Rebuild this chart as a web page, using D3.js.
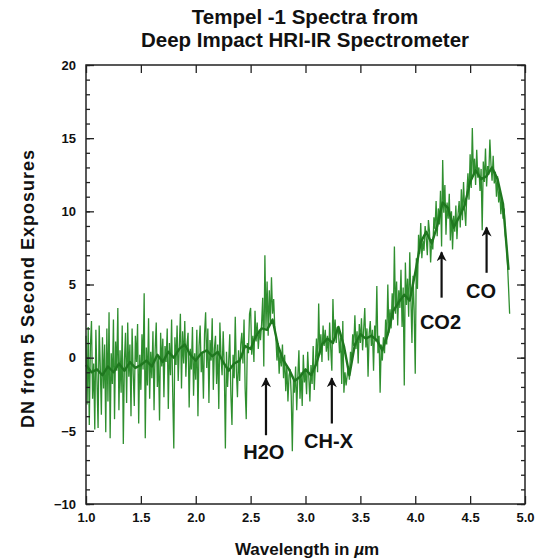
<!DOCTYPE html>
<html>
<head>
<meta charset="utf-8">
<script src="https://cdn.jsdelivr.net/npm/d3@7"></script>
<style>
    body { margin: 0; background: #fff; }
    text { font-family: "Liberation Sans", Arial, Helvetica, sans-serif; font-weight: bold; fill: #111; }
    .axis path { display: none; }
    .axis line { stroke: #222; stroke-width: 1.3; }
    .axis text { font-size: 13px; }
</style>
</head>
<body>
<svg id="chart" width="548" height="559"></svg>
<script>
// raw spectrum, one sample every 0.01 um starting at 1.00 um
let rawStart = 1.0, rawStep = 0.01;
let rawDN = [
    1.5, -3.2, 2.1, -4.6, 0.8, 2.5, -2.8, -0.4, -4.9, 1.9,
    -1.5, -4.8, 2.2, -0.6, -3.9, 1.4, -2.1, 0.9, -5.1, 2.0,
    -3.0, 3.1, -5.5, 0.3, -1.8, 2.6, -4.2, 1.1, -0.9, 3.4,
    -3.6, 0.5, -2.4, 2.2, -5.9, -0.2, 1.7, -3.1, 2.4, -1.3,
    0.9, -4.0, 2.0, -1.1, -3.3, 1.5, -0.3, 2.3, -4.5, 0.2,
    -2.2, 1.6, -0.8, 4.4, -5.5, 0.7, -1.9, 2.7, -2.8, 0.4,
    -1.4, 1.8, -3.6, 0.5, 2.4, -2.0, 0.1, -4.3, 1.7, -0.6,
    1.3, -2.7, 0.8, -0.3, 2.0, -3.5, 1.0, -1.2, 2.6, -2.4,
    -6.2, 1.4, -0.5, 2.2, -1.6, 0.7, 3.0, -2.1, 1.8, -0.4,
    2.5, -1.3, 0.9, 1.7, -3.4, 0.6, -0.8, 2.1, -2.6, 0.3,
    -1.5, 1.9, -4.0, 0.8, 2.2, -1.0, 0.4, -2.8, 1.6, 3.1,
    -0.7, 2.0, -3.1, 1.2, -0.2, 2.7, -2.2, 0.6, 1.5, -1.8,
    0.9, -3.5, 2.4, 0.1, -1.2, 1.8, -0.6, -6.2, 0.4, -2.0,
    -0.3, 1.6, -2.5, -4.6, 0.2, -1.4, 2.8, -0.9, -2.7, 0.5,
    -1.6, 0.9, 1.7, -0.4, 2.6, -2.1, -4.2, 1.0, 0.3, 3.0,
    3.4, 0.2, 1.5, -0.3, 3.2, 1.1, 2.4, 0.6, 1.9, 1.2,
    2.3, 4.1, -0.6, 7.0, 2.0, 5.2, 1.5, 4.6, 2.4, 5.5,
    3.0, 4.0, 2.1, 1.4, -0.2, 1.0, -1.1, 0.4, -0.6, 0.9,
    -1.4, 0.2, -2.3, -0.5, -3.0, -1.2, -0.8, -2.6, -6.4, -1.5,
    -2.4, -0.6, -3.6, -1.3, 0.5, -2.8, -1.0, -3.3, 0.2, -1.7,
    -0.9, -2.5, 0.4, -1.3, -3.0, -0.5, -1.8, 0.8, -2.2, -0.4,
    1.3, -1.0, 3.7, 0.2, 1.6, -0.3, 2.2, 0.8, 1.9, 0.4,
    1.5, -0.2, 2.4, 0.6, -0.9, 4.0, 1.2, 2.6, 1.0, 2.1,
    1.8, 0.3, 1.4, -1.8, 2.5, -2.4, -1.0, -1.9, -1.2, -0.6,
    -1.5, 0.4, -0.2, 1.6, 0.8, 2.9, 0.6, 1.8, -0.4, 2.3,
    1.0, 2.7, 0.5, 1.9, 3.4, 0.7, 2.0, -1.3, 1.6, 2.5,
    0.8, 1.9, -0.9, 2.2, 1.1, 4.9, 0.3, 1.5, -2.4, 0.9,
    -0.2, 1.4, 0.3, 2.6, 0.9, 5.0, 1.7, 3.3, 2.0, 4.4,
    2.6, 7.6, 3.0, 5.2, 2.2, 4.6, 3.4, 6.0, 2.1, 4.8,
    -1.9, 6.5, 3.6, 5.4, 2.8, 7.2, 4.1, 1.0, 5.6, 3.2,
    -1.1, 6.8, 4.7, 8.4, 7.1, 9.2, 6.8, 8.0, 7.3, 9.0,
    8.2, 7.0, 9.4, 8.6, 6.5, 8.1, 7.4, 9.6, 8.8, 10.7,
    8.3, 10.2, 9.1, 11.4, 7.6, 13.5, 9.9, 11.8, 8.4, 10.6,
    9.5, 11.2, 8.0, 10.0, 7.4, 9.7, 8.6, 10.4, 8.1, 9.8,
    10.7, 8.9, 11.5, 9.4, 12.0, 10.1, 9.0, 11.3, 12.6, 10.8,
    13.9, 11.6, 15.7, 12.4, 13.6, 11.8, 14.2, 12.3, 13.0, 11.4,
    12.9, 8.7, 13.4, 12.0, 14.3, 11.7, 13.1, 12.5, 14.9, 13.2,
    12.1, 13.8, 11.9, 12.7, 11.0, 12.4, 10.6, 11.5, 9.8, 10.9,
    9.5, 10.2, 8.4, 7.8, 6.5, 4.8, 3.0
];

// smoothed spectrum, one sample every 0.05 um
let smoothStart = 1.0, smoothStep = 0.05;
let smoothDN = [
    -0.5, -1.0, -0.8, -1.2, -0.6, -1.0, -0.4, -0.9, -0.3, -0.7,
    -0.5, -0.2, -0.6, 0.2, -0.3, 0.4, 0.0, 0.6, 0.9, 0.2,
    -0.2, 0.3, 0.5, 0.1, 0.4, -0.3, -0.9, -0.4, -0.2, 0.8,
    0.6, 1.5, 2.0, 1.9, 2.6, 0.8, -0.2, -0.8, -1.6, -1.3,
    -0.8, -1.2, -0.4, 0.9, 1.3, 1.0, 2.1, 0.8, -1.2, 0.9,
    1.6, 1.3, 1.5, 1.2, 0.5, 1.6, 3.2, 3.8, 4.3, 3.9,
    5.8, 7.9, 8.6, 7.8, 9.0, 10.6, 10.2, 8.9, 9.6, 10.4,
    12.0, 12.8, 12.2, 12.4, 13.0, 12.2, 10.5, 6.0
];

// band annotations: wavelength, arrow tip / tail and label baseline in DN
let bandNames = ["H2O", "CH-X", "CO2", "CO"];
let bandWave = [2.64, 3.24, 4.24, 4.65];
let bandLabelWave = [2.62, 3.21, 4.23, 4.60];
let bandTip = [-1.4, -1.4, 7.2, 8.9];
let bandTail = [-5.3, -4.5, 4.1, 5.8];
let bandLabel = [-6.95, -6.2, 1.95, 4.05];

let xTicks = [1.0, 1.5, 2.0, 2.5, 3.0, 3.5, 4.0, 4.5, 5.0];
let yTicks = [-10, -5, 0, 5, 10, 15, 20];

let margin = {top: 65, right: 23, bottom: 55, left: 86},
    width = 548 - margin.left - margin.right,
    height = 559 - margin.top - margin.bottom;

let svg = d3.select("#chart");
let g = svg.append("g")
    .attr("transform", "translate(" + margin.left + "," + margin.top + ")");

let x = d3.scaleLinear().domain([1, 5]).range([0, width]);
let y = d3.scaleLinear().domain([-10, 20]).range([height, 0]);

let raw = rawDN.map(function(v, i) { return {w: rawStart + i * rawStep, v: v}; });
let smooth = smoothDN.map(function(v, i) { return {w: smoothStart + i * smoothStep, v: v}; });

let line = d3.line()
    .x(function(d) { return x(d.w); })
    .y(function(d) { return y(d.v); });

g.append("path")
    .datum(raw)
    .attr("d", line)
    .attr("fill", "none")
    .attr("stroke", "#2f8f2f")
    .attr("stroke-width", 1.3);

g.append("path")
    .datum(smooth)
    .attr("d", line)
    .attr("fill", "none")
    .attr("stroke", "#1f781f")
    .attr("stroke-width", 2.4)
    .attr("stroke-linejoin", "round");

// axes, ticks pointing inward on all four sides
let minorY = d3.range(-10, 21, 1);

g.append("g").attr("class", "axis")
    .attr("transform", "translate(0," + height + ")")
    .call(d3.axisBottom(x).tickValues(xTicks).tickSize(-8).tickPadding(9)
        .tickFormat(d3.format(".1f")));
g.append("g").attr("class", "axis")
    .call(d3.axisTop(x).tickValues(xTicks).tickSize(-8).tickFormat(""));

g.append("g").attr("class", "axis")
    .call(d3.axisLeft(y).tickValues(minorY).tickSize(-4).tickFormat(""));
g.append("g").attr("class", "axis")
    .call(d3.axisLeft(y).tickValues(yTicks).tickSize(-8).tickPadding(10));
g.append("g").attr("class", "axis")
    .attr("transform", "translate(" + width + ",0)")
    .call(d3.axisRight(y).tickValues(minorY).tickSize(-4).tickFormat(""));
g.append("g").attr("class", "axis")
    .attr("transform", "translate(" + width + ",0)")
    .call(d3.axisRight(y).tickValues(yTicks).tickSize(-8).tickFormat(""));

g.append("rect")
    .attr("width", width)
    .attr("height", height)
    .attr("fill", "none")
    .attr("stroke", "#222")
    .attr("stroke-width", 1.5);

// arrows
svg.append("defs").append("marker")
    .attr("id", "head")
    .attr("viewBox", "0 0 10 10")
    .attr("refX", 9).attr("refY", 5)
    .attr("markerWidth", 14).attr("markerHeight", 10)
    .attr("markerUnits", "userSpaceOnUse")
    .attr("orient", "auto")
    .append("path")
    .attr("d", "M0,0 L10,5 L0,10 L3,5 Z")
    .attr("fill", "#111");

let bands = bandNames.map(function(n, i) {
    return {name: n, w: bandWave[i], lw: bandLabelWave[i], tip: bandTip[i], tail: bandTail[i], lab: bandLabel[i]};
});

g.selectAll("line.arrow")
    .data(bands)
    .enter()
    .append("line")
    .attr("class", "arrow")
    .attr("x1", function(d) { return x(d.w); })
    .attr("x2", function(d) { return x(d.w); })
    .attr("y1", function(d) { return y(d.tail); })
    .attr("y2", function(d) { return y(d.tip); })
    .attr("stroke", "#111")
    .attr("stroke-width", 2.2)
    .attr("marker-end", "url(#head)");

g.selectAll("text.band")
    .data(bands)
    .enter()
    .append("text")
    .attr("class", "band")
    .attr("x", function(d) { return x(d.lw); })
    .attr("y", function(d) { return y(d.lab); })
    .attr("text-anchor", "middle")
    .style("font-size", "20px")
    .text(function(d) { return d.name; });

// titles
svg.append("text")
    .attr("x", 305).attr("y", 24)
    .attr("text-anchor", "middle")
    .style("font-size", "20.5px")
    .text("Tempel -1 Spectra from");
svg.append("text")
    .attr("x", 305).attr("y", 47)
    .attr("text-anchor", "middle")
    .style("font-size", "20.5px")
    .text("Deep Impact HRI-IR Spectrometer");

let xl = svg.append("text")
    .attr("x", 307).attr("y", 555)
    .attr("text-anchor", "middle")
    .style("font-size", "17px");
xl.append("tspan").text("Wavelength in ");
xl.append("tspan").style("font-style", "italic").text("\u00b5");
xl.append("tspan").text("m");

svg.append("text")
    .attr("transform", "translate(34," + (margin.top + height / 2 + 4) + ") rotate(-90)")
    .attr("text-anchor", "middle")
    .style("font-size", "18px")
    .style("letter-spacing", "1px")
    .text("DN from 5 Second Exposures");
</script>
</body>
</html>
